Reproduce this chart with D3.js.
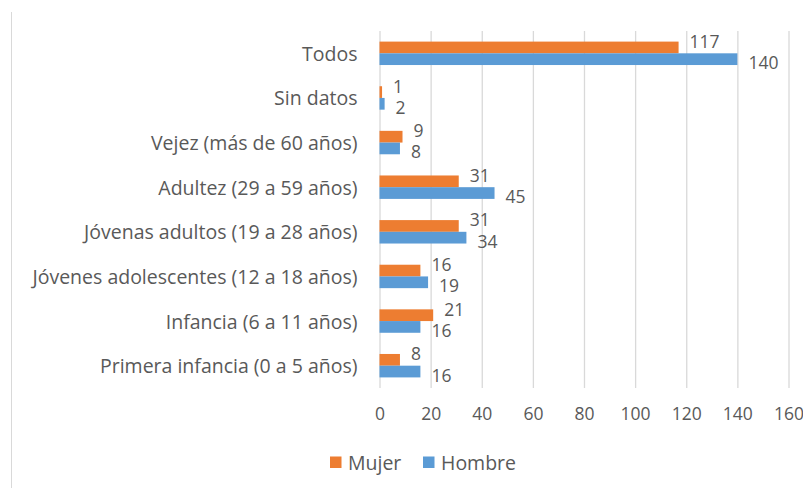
<!DOCTYPE html>
<html>
<head>
<meta charset="utf-8">
<script src="https://cdn.jsdelivr.net/npm/d3@7"></script>
<style>
  body { margin: 0; background: #fff; }
  text { font-family: "Open Sans", sans-serif; fill: #595959; }
</style>
</head>
<body>
<div id="chart"></div>
<script>
// Data
var categories = [
  "Todos",
  "Sin datos",
  "Vejez (más de 60 años)",
  "Adultez (29 a 59 años)",
  "Jóvenas adultos (19 a 28 años)",
  "Jóvenes adolescentes (12 a 18 años)",
  "Infancia (6 a 11 años)",
  "Primera infancia (0 a 5 años)"
];
var mujer = [117, 1, 9, 31, 31, 16, 21, 8];
var hombre = [140, 2, 8, 45, 34, 19, 16, 16];
var seriesNames = ["Mujer", "Hombre"];
var xTicks = [0, 20, 40, 60, 80, 100, 120, 140, 160];

var svgWidth = 803;
var svgHeight = 488;

var margin = {
  top: 31,
  right: 14.5,
  bottom: 100,
  left: 379.5
};

var width = svgWidth - margin.left - margin.right;
var height = svgHeight - margin.top - margin.bottom;

var fontSize = "19.5px";
var numberSize = "17.5px";
var colors = { Mujer: "#ED7D31", Hombre: "#5B9BD5" };

var svg = d3.select("#chart")
  .append("svg")
  .attr("width", svgWidth)
  .attr("height", svgHeight);

// chart area border (left edge only is visible)
svg.append("line")
  .attr("x1", 11.5).attr("x2", 11.5)
  .attr("y1", 12).attr("y2", svgHeight)
  .attr("stroke", "#d9d9d9")
  .attr("stroke-width", 1);

var chartGroup = svg.append("g")
  .attr("transform", `translate(${margin.left}, ${margin.top})`);

// Scales
var xLinearScale = d3.scaleLinear()
  .domain([0, 160])
  .range([0, width]);

var yBand = d3.scaleBand()
  .domain(categories)
  .range([0, height])
  .paddingInner(0.475)
  .paddingOuter(0.2375);

var ySub = d3.scaleBand()
  .domain(seriesNames)
  .range([0, yBand.bandwidth()]);

// Gridlines + tick labels
var bottomAxis = d3.axisBottom(xLinearScale)
  .tickValues(xTicks)
  .tickSizeInner(-height)
  .tickSizeOuter(0)
  .tickFormat(d3.format("d"));

var xAxisG = chartGroup.append("g")
  .attr("transform", `translate(0, ${height})`)
  .call(bottomAxis);

xAxisG.select(".domain").remove();
xAxisG.selectAll(".tick line")
  .attr("stroke", "#d9d9d9")
  .attr("stroke-width", 1.3);
xAxisG.selectAll(".tick text")
  .attr("y", 26)
  .attr("dy", "0.35em")
  .attr("fill", "#595959")
  .attr("font-size", numberSize)
  .attr("font-family", "'Open Sans', sans-serif");

// Category labels
chartGroup.append("g")
  .selectAll("text")
  .data(categories)
  .enter()
  .append("text")
  .attr("x", -22)
  .attr("y", d => yBand(d) + yBand.bandwidth() / 2)
  .attr("text-anchor", "end")
  .attr("dominant-baseline", "central")
  .attr("font-size", fontSize)
  .text(d => d);

// Bars
var rows = categories.map(function(c, i) {
  return { cat: c, values: [
    { key: "Mujer", value: mujer[i] },
    { key: "Hombre", value: hombre[i] }
  ] };
});

var groups = chartGroup.append("g")
  .selectAll("g")
  .data(rows)
  .enter()
  .append("g")
  .attr("transform", d => `translate(0, ${yBand(d.cat)})`);

groups.selectAll("rect")
  .data(d => d.values)
  .enter()
  .append("rect")
  .attr("x", xLinearScale(0))
  .attr("y", d => ySub(d.key))
  .attr("width", d => xLinearScale(d.value) - xLinearScale(0))
  .attr("height", ySub.bandwidth())
  .attr("fill", d => colors[d.key]);

// Value labels (nudged apart like the original)
groups.selectAll("text")
  .data(d => d.values)
  .enter()
  .append("text")
  .attr("x", d => xLinearScale(d.value) + 11)
  .attr("y", d => ySub(d.key) + ySub.bandwidth() / 2 + (d.key === "Mujer" ? -6.5 : 3))
  .attr("dominant-baseline", "central")
  .attr("font-size", numberSize)
  .text(d => d.value);

// Legend
var legend = svg.append("g")
  .attr("transform", "translate(330, 462)");

var legendX = [0, 93];
seriesNames.forEach(function(name, i) {
  var item = legend.append("g")
    .attr("transform", `translate(${legendX[i]}, 0)`);
  item.append("rect")
    .attr("x", 0)
    .attr("y", -5.5)
    .attr("width", 11.5)
    .attr("height", 11.5)
    .attr("fill", colors[name]);
  item.append("text")
    .attr("x", 18)
    .attr("y", 0)
    .attr("dominant-baseline", "central")
    .attr("font-size", fontSize)
    .text(name);
});
</script>
</body>
</html>
